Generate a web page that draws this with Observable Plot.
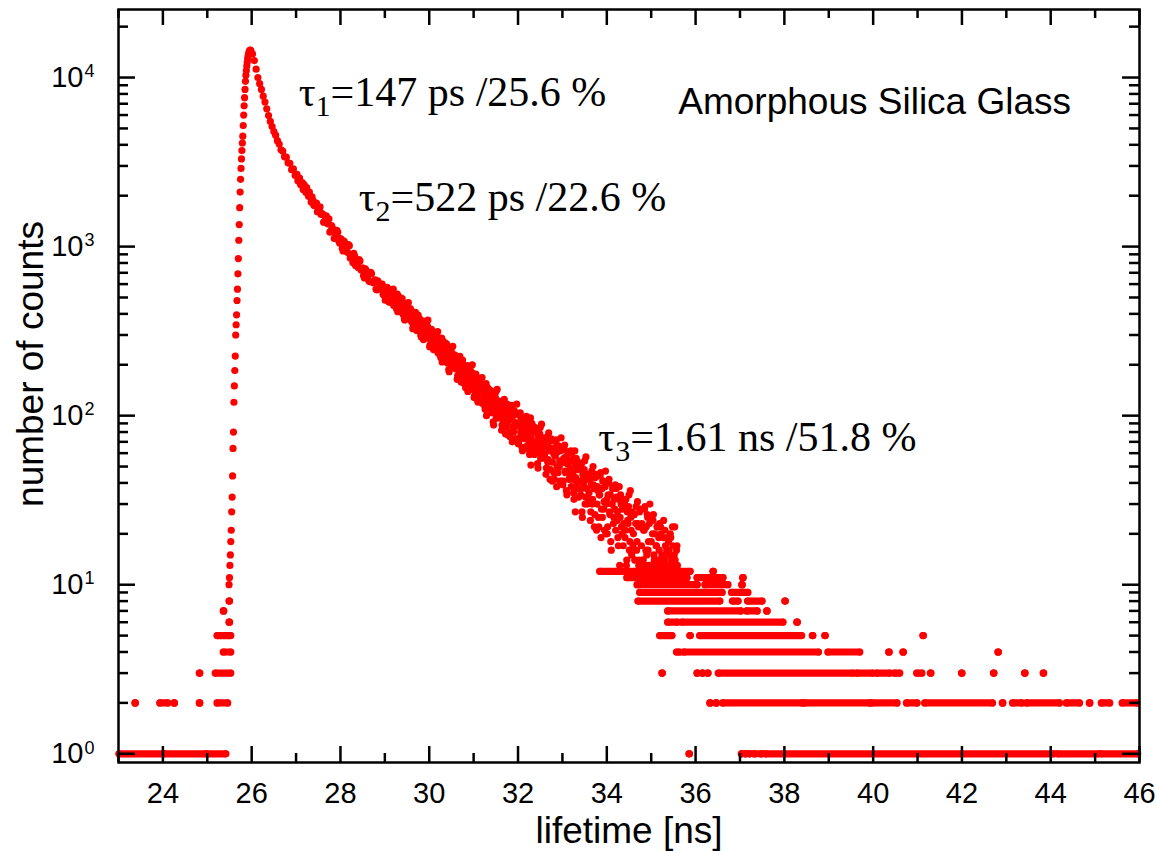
<!DOCTYPE html>
<html>
<head>
<meta charset="utf-8">
<script src="https://cdn.jsdelivr.net/npm/d3@7"></script>
<script src="https://cdn.jsdelivr.net/npm/@observablehq/plot@0.6"></script>
<style>
  html, body { margin: 0; padding: 0; background: #ffffff; }
  svg { display: block; }
</style>
</head>
<body>
<div id="chart"></div>
<script>
// ---------------- DATA ----------------
// rising edge, one value per 0.01 ns channel
const riseStart = 25.49, riseStep = 0.01;
const riseCounts = [10, 11, 13, 15, 18, 21, 27, 33, 44, 64, 80, 120, 150, 185, 225, 300, 345, 395, 480, 560,
  690, 850, 1090, 1350, 1700, 2100, 2500, 2900, 3300, 3700, 4100, 4500, 5200, 6000, 6800, 7600, 8500, 9500,
  10300, 11000, 11700, 12300, 12900, 13400, 13800, 14100, 14350, 14500, 14550];

// peak and early decay, channels every 0.04 ns
const decayAStart = 25.98, decayAStep = 0.04;
const decayACounts = [14450, 13800, 12600, 11200, 10000, 9200, 8500, 7760, 7160, 6530,
  5960, 5500, 5130, 4790, 4560, 4230, 4040, 3740, 3670, 3400,
  3380, 3130, 3110, 2850, 2880, 2636, 2678, 2510, 2333, 2387,
  2330, 2095, 2090, 2100, 1834, 1879, 1746, 1810, 1630, 1717,
  1566, 1395, 1503, 1386, 1458, 1235, 1285, 1118, 1175, 1214,
  1051, 1102, 942, 1050, 957, 1029, 857, 900, 913, 774,
  796, 838, 729, 748, 652, 720, 676, 621, 691, 612,
  636, 555, 611, 563, 600, 516];

// interleaved channels of the early decay (0.04 ns apart, offset by 0.02 ns)
const decayA2Start = 27.00, decayA2Step = 0.04;
const decayA2Counts = [2671, 2453, 2544, 2361, 2176, 2244, 2231, 1984, 1965, 1971,
  1757, 1788, 1607, 1700, 1553, 1556, 1398, 1522, 1361, 1219,
  1331, 1237, 1123, 1247, 1082, 1114, 978, 1078, 988, 922,
  1012, 883, 806, 880, 826, 751, 821, 739, 673, 739,
  698, 628, 705, 619, 630, 561, 628, 564, 579, 522];

// noisy tail of the decay, channels every 0.02 ns (counts >= 13)
const decayBStart = 29.00, decayBStep = 0.02;
const decayBCounts = [
  531, 490, 564, 512, 542, 468, 526, 556, 503, 517,
  449, 502, 473, 430, 523, 465, 486, 444, 496, 457,
  441, 405, 374, 432, 415, 458, 393, 422, 384, 427,
  360, 386, 338, 399, 351, 374, 319, 388, 370, 347,
  335, 292, 328, 363, 311, 300, 348, 320, 339, 287,
  292, 262, 317, 278, 300, 245, 288, 311, 272, 282,
  235, 273, 252, 221, 288, 246, 262, 231, 269, 240,
  238, 211, 187, 231, 218, 250, 202, 223, 195, 227,
  189, 207, 172, 217, 182, 199, 158, 209, 195, 179,
  177, 146, 173, 198, 160, 152, 187, 166, 180, 143,
  153, 131, 170, 143, 159, 120, 150, 166, 138, 146,
  118, 145, 130, 109, 155, 126, 137, 116, 142, 122,
  129, 109, 92, 123, 114, 138, 102, 118, 97, 121,
  100, 113, 88, 120, 95, 107, 78, 114, 104, 92,
  99, 75, 96, 115, 86, 80, 106, 91, 102, 73,
  87, 71, 100, 80, 92, 62, 85, 97, 77, 82,
  66, 88, 76, 59, 97, 73, 81, 64, 86, 70,
  79, 64, 52, 75, 68, 85, 59, 71, 56, 73,
  59, 70, 49, 75, 55, 65, 42, 71, 63, 53,
  60, 42, 58, 72, 50, 46, 66, 54, 62, 41,
  53, 41, 63, 47, 57, 34, 52, 61, 45, 49,
  38, 55, 46, 32, 62, 43, 50, 37, 53, 41,
  49, 37, 27, 45, 40, 54, 33, 42, 30, 44,
  35, 42, 27, 47, 32, 39, 22, 43, 37, 30,
  36, 22, 34, 46, 28, 25, 41, 31, 38, 20,
  32, 22, 40, 27, 34, 16, 30, 38, 25, 28,
  21, 33, 27, 17, 38, 25, 30, 20, 32, 23,
  30, 21, 13, 27, 23, 34, 18, 25, 15, 26,
  20, 26, 14, 29, 18, 23, 13, 27, 22, 17,
  22, 14, 21, 29, 16, 15, 25, 18, 23, 13,
  18, 13, 24, 15, 20, 14, 17, 22, 13, 16,
  13, 20, 15, 14, 24, 14, 17, 13, 19, 15,
  16, 13, 19, 14, 22, 13, 15, 14, 13, 17];

// interleaved channels of the noisy tail (0.02 ns apart, offset by 0.01 ns)
const decayCStart = 29.01, decayCStep = 0.02;
const decayCCounts = [
  482, 540, 575, 506, 474, 526, 552, 494, 535, 561,
  517, 462, 440, 495, 412, 506, 454, 481, 432, 492,
  398, 453, 368, 420, 440, 385, 467, 405, 430, 390,
  386, 327, 375, 346, 408, 367, 334, 394, 318, 372,
  300, 329, 358, 282, 336, 349, 311, 288, 367, 318,
  256, 299, 324, 273, 250, 288, 307, 265, 295, 314,
  284, 244, 228, 268, 208, 276, 238, 258, 222, 266,
  205, 246, 182, 222, 237, 195, 257, 210, 229, 199,
  208, 164, 199, 178, 224, 194, 169, 213, 157, 197,
  152, 173, 194, 139, 178, 188, 160, 144, 200, 165,
  128, 158, 176, 140, 123, 150, 164, 134, 155, 168,
  152, 125, 114, 141, 100, 147, 121, 135, 110, 140,
  104, 135, 88, 117, 128, 97, 143, 109, 122, 100,
  113, 82, 107, 92, 125, 103, 86, 117, 77, 106,
  80, 96, 112, 70, 100, 107, 86, 73, 117, 90,
  68, 91, 104, 77, 65, 85, 95, 73, 89, 99,
  94, 72, 63, 85, 51, 90, 68, 80, 59, 84,
  61, 83, 49, 70, 78, 56, 89, 64, 74, 58,
  70, 45, 65, 53, 79, 62, 48, 73, 41, 64,
  46, 58, 70, 38, 61, 66, 50, 41, 74, 53,
  39, 56, 67, 46, 36, 52, 60, 42, 54, 62,
  60, 42, 35, 53, 27, 56, 40, 48, 33, 52,
  34, 52, 25, 42, 48, 30, 57, 37, 45, 32,
  43, 24, 39, 30, 50, 37, 26, 45, 21, 38,
  25, 34, 44, 19, 37, 41, 28, 21, 47, 30,
  20, 34, 42, 26, 18, 30, 37, 23, 32, 39,
  37, 24, 19, 32, 13, 34, 22, 28, 17, 31,
  19, 32, 14, 24, 29, 16, 36, 21, 27, 17,
  26, 14, 23, 16, 31, 22, 14, 28, 13, 23,
  14, 21, 28, 13, 22, 26, 16, 13, 30, 18,
  13, 20, 26, 14, 13, 17, 22, 14, 19, 23,
  22, 14, 13, 19, 13, 21, 13, 16, 13, 18,
  13, 20, 13, 14, 17, 13, 22, 13, 16, 13];

// low integer counts: [count, first channel (ns), last channel (ns)] of each run of dots
const lowRuns = [
  [1, 23.02, 24.00], [1, 24.04, 24.95], [1, 25.00, 25.42], [1, 35.86, 35.86],
  [1, 37.04, 37.04], [1, 37.12, 37.14], [1, 37.22, 37.22], [1, 37.31, 37.36], [1, 37.46, 37.50],
  [1, 37.58, 44.08], [1, 44.16, 45.08], [1, 45.14, 45.96],
  [2, 23.38, 23.38], [2, 23.94, 24.11], [2, 24.26, 24.26], [2, 24.83, 24.83], [2, 25.23, 25.46],
  [2, 36.33, 36.33], [2, 36.47, 36.47], [2, 36.62, 38.40], [2, 38.46, 39.92], [2, 39.96, 40.54],
  [2, 40.76, 40.99], [2, 41.17, 42.69], [2, 42.92, 42.92], [2, 43.15, 43.35], [2, 43.46, 44.20],
  [2, 44.36, 44.65], [2, 44.88, 44.88], [2, 45.15, 45.33], [2, 45.62, 45.94],
  [3, 24.83, 24.83], [3, 25.19, 25.53], [3, 35.25, 35.25], [3, 36.04, 36.04], [3, 36.16, 36.16],
  [3, 36.28, 36.28], [3, 36.52, 39.55], [3, 39.64, 39.99], [3, 40.08, 40.38], [3, 40.49, 40.60],
  [3, 40.99, 41.10], [3, 41.30, 41.30], [3, 42.00, 42.00], [3, 42.72, 42.72], [3, 43.42, 43.42],
  [3, 43.84, 43.84],
  [4, 25.37, 25.53], [4, 35.58, 35.64], [4, 35.74, 38.77], [4, 38.99, 39.70], [4, 40.36, 40.36],
  [4, 40.68, 40.68], [4, 42.82, 42.82],
  [5, 25.23, 25.53], [5, 35.20, 35.47], [5, 35.88, 35.88], [5, 36.10, 38.39], [5, 38.64, 38.64],
  [5, 38.92, 38.92], [5, 41.13, 41.13],
  [6, 25.50, 25.50], [6, 35.38, 35.59], [6, 35.70, 37.97], [6, 38.29, 38.29],
  [7, 25.37, 25.37], [7, 35.38, 37.02], [7, 37.16, 37.39], [7, 37.61, 37.61],
  [8, 25.50, 25.50], [8, 34.71, 36.55], [8, 36.84, 36.96], [8, 37.18, 37.50], [8, 38.02, 38.02],
  [9, 34.75, 36.60], [9, 36.82, 37.18],
  [10, 34.69, 36.04], [10, 36.22, 36.73], [10, 37.05, 37.05],
  [11, 34.46, 35.81], [11, 36.04, 36.62], [11, 37.07, 37.07],
  [12, 33.85, 35.59], [12, 35.65, 35.88], [12, 36.40, 36.40]
];

const xMajorTicks = [24, 26, 28, 30, 32, 34, 36, 38, 40, 42, 44, 46];
const xMinorTicks = [23, 25, 27, 29, 31, 33, 35, 37, 39, 41, 43, 45];
const yMajorTicks = [1, 10, 100, 1000, 10000];
const yMinorTicks = [2, 3, 4, 5, 6, 7, 8, 9, 20, 30, 40, 50, 60, 70, 80, 90,
  200, 300, 400, 500, 600, 700, 800, 900, 2000, 3000, 4000, 5000, 6000, 7000, 8000, 9000, 20000];

const annoLabels = ["τ1=147 ps /25.6 %", "τ2=522 ps /22.6 %", "τ3=1.61 ns /51.8 %"];
const annoX = [27.06, 28.41, 33.81];
const annoY = [6830, 1633, 62.1];
const sampleLabel = ["Amorphous Silica Glass"];
const sampleX = [35.61];
const sampleY = [6125];
const xTitle = "lifetime [ns]";
const yTitle = "number of counts";

// ---------------- build table of channels ----------------
function channels(start, step, counts) {
  return counts.map((n, i) => ({t: +(start + i * step).toFixed(3), n}));
}
const points = [
  ...channels(riseStart, riseStep, riseCounts),
  ...channels(decayAStart, decayAStep, decayACounts),
  ...channels(decayA2Start, decayA2Step, decayA2Counts),
  ...channels(decayBStart, decayBStep, decayBCounts),
  ...channels(decayCStart, decayCStep, decayCCounts)
];

// ---------------- chart ----------------
const W = 1157, H = 851;
const mL = 118, mR = 18, mT = 9, mB = 89;
const innerW = W - mL - mR, innerH = H - mT - mB;
const red = "#ff0000";
const sans = "Liberation Sans, Arial, Helvetica, sans-serif";
const serif = "Liberation Serif, Times New Roman, serif";
const axisW = 2.5;
const dotR = 3.6;

const chart = Plot.plot({
  width: W, height: H,
  marginLeft: mL, marginRight: mR, marginTop: mT, marginBottom: mB,
  x: {domain: [23, 46], axis: null},
  y: {type: "log", domain: [0.888, 25260], axis: null},
  style: {background: "#ffffff", overflow: "visible"},
  marks: [
    Plot.ruleY(lowRuns, {y: d => d[0], x1: d => d[1], x2: d => d[2], stroke: red, strokeWidth: 2 * dotR, strokeLinecap: "round"}),
    Plot.dot(lowRuns, {x: d => d[1], y: d => d[0], r: dotR, fill: red}),
    Plot.dot(lowRuns, {x: d => d[2], y: d => d[0], r: dotR, fill: red}),
    Plot.dot(points, {x: "t", y: "n", r: dotR, fill: red}),

    // inward ticks, bottom and top
    Plot.tickX(xMajorTicks, {x: d => d, insetTop: innerH - 16, stroke: "black", strokeWidth: axisW}),
    Plot.tickX(xMinorTicks, {x: d => d, insetTop: innerH - 9, stroke: "black", strokeWidth: axisW}),
    Plot.tickX(xMajorTicks, {x: d => d, insetBottom: innerH - 16, stroke: "black", strokeWidth: axisW}),
    Plot.tickX(xMinorTicks, {x: d => d, insetBottom: innerH - 9, stroke: "black", strokeWidth: axisW}),
    // inward ticks, left and right
    Plot.tickY(yMajorTicks, {y: d => d, insetRight: innerW - 17, stroke: "black", strokeWidth: axisW}),
    Plot.tickY(yMinorTicks, {y: d => d, insetRight: innerW - 10, stroke: "black", strokeWidth: axisW}),
    Plot.tickY(yMajorTicks, {y: d => d, insetLeft: innerW - 17, stroke: "black", strokeWidth: axisW}),
    Plot.tickY(yMinorTicks, {y: d => d, insetLeft: innerW - 10, stroke: "black", strokeWidth: axisW}),
    Plot.frame({stroke: "black", strokeWidth: axisW}),

    // tick labels
    Plot.text(xMajorTicks, {x: d => d, frameAnchor: "bottom", dy: 20, lineAnchor: "top",
      text: d => String(d), fontSize: 29, fontFamily: sans, fill: "black"}),
    Plot.text(yMajorTicks, {y: d => d, frameAnchor: "left", dx: -35, textAnchor: "end", lineAnchor: "middle",
      text: () => "10", fontSize: 29, fontFamily: sans, fill: "black"}),
    Plot.text(yMajorTicks, {y: d => d, frameAnchor: "left", dx: -34, dy: -6, textAnchor: "start", lineAnchor: "middle",
      text: d => String(Math.round(Math.log10(d))), fontSize: 18, fontFamily: sans, fill: "black"}),

    // axis titles
    Plot.text([xTitle], {frameAnchor: "bottom", dy: 80, lineAnchor: "bottom", text: d => d,
      fontSize: 37, fontFamily: sans, fill: "black"}),
    Plot.text([yTitle], {frameAnchor: "left", dx: -76, dy: -22, rotate: -90, lineAnchor: "bottom", textAnchor: "middle",
      text: d => d, fontSize: 37, fontFamily: sans, fill: "black"}),

    // annotations
    Plot.text(annoLabels, {x: (d, i) => annoX[i], y: (d, i) => annoY[i], text: d => d, textAnchor: "start",
      lineAnchor: "bottom", fontSize: 42, fontFamily: serif, fill: "black"}),
    Plot.text(sampleLabel, {x: (d, i) => sampleX[i], y: (d, i) => sampleY[i], text: d => d, textAnchor: "start",
      lineAnchor: "bottom", fontSize: 37, fontFamily: sans, fill: "black"})
  ]
});

// subscripts for the lifetime annotations
d3.select(chart).selectAll("text").each(function () {
  const m = /^τ(\d)(.*)$/.exec(this.textContent);
  if (!m) return;
  const t = d3.select(this);
  t.text(null);
  t.append("tspan").text("τ");
  t.append("tspan").attr("font-size", 30).attr("dy", 10).text(m[1]);
  t.append("tspan").attr("dy", -10).text(m[2]);
});

document.getElementById("chart").appendChild(chart);
</script>
</body>
</html>
